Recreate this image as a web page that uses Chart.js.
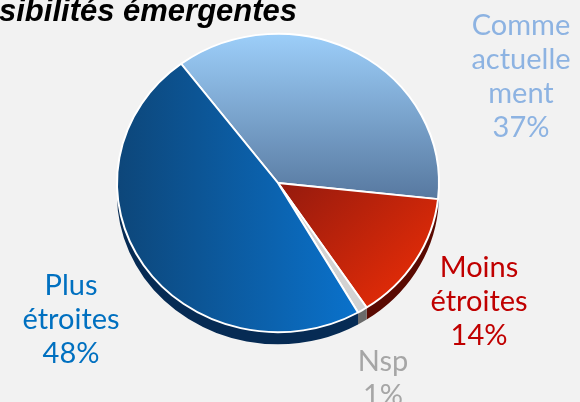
<!DOCTYPE html>
<html lang="fr">
<head>
<meta charset="utf-8">
<script src="https://cdn.jsdelivr.net/npm/chart.js@4.4.1/dist/chart.umd.min.js"></script>
<style>
  body { margin: 0; background: #f2f2f2; }
  #cadre { position: relative; width: 580px; height: 402px; }
</style>
</head>
<body>
<div id="cadre"><canvas id="graphique"></canvas></div>
<script>
const titre = 'sibilités émergentes';
const categories = ['Comme actuellement', 'Moins étroites', 'Nsp', 'Plus étroites'];
const valeurs = [37, 14, 1, 48];
const lignesEtiquettes = [['Comme', 'actuelle', 'ment'], ['Moins', 'étroites'], ['Nsp'], ['Plus', 'étroites']];

const couleursTexte = ['#8db3e2', '#c00000', '#a6a6a6', '#0070c0'];
const couleursCote = ['#3f5f86', '#5a0a02', '#6a6a6a', '#062b54'];
// centre x and first baseline of each outside label
const placeEtiquettes = [[521, 35], [479, 277], [383, 371], [71, 295]];
const INTERLIGNE = 34;

const ECRASEMENT = 0.927; // vertical flattening of the pie
const EPAISSEUR = 12;     // edge thickness in px

function degrade(context) {
  const chart = context.chart;
  const a = chart.chartArea;
  const i = context.dataIndex;
  if (!a) return '#888';
  const c = chart.ctx;
  const cx = (a.left + a.right) / 2, cy = (a.top + a.bottom) / 2, r = (a.right - a.left) / 2;
  let g;
  if (i === 0) {
    g = c.createLinearGradient(0, cy - r, 0, cy + 20);
    g.addColorStop(0, '#9dcffa');
    g.addColorStop(1, '#56779e');
  } else if (i === 1) {
    g = c.createLinearGradient(cx, cy, cx + r * 0.7, cy + r * 0.7);
    g.addColorStop(0, '#941a0e');
    g.addColorStop(1, '#dc2a08');
  } else if (i === 2) {
    return '#d2d2d2';
  } else {
    g = c.createLinearGradient(cx - r, 0, cx + r * 0.5, 0);
    g.addColorStop(0, '#0d4679');
    g.addColorStop(1, '#0a72cc');
  }
  return g;
}

// outer edge band, only the part facing down (canvas angles 0..PI)
function bande(c, x, y, r, a0, a1, prof) {
  const tour = Math.PI * 2;
  for (let k = -1; k <= 1; k++) {
    const s = Math.max(a0 + k * tour, 0), e = Math.min(a1 + k * tour, Math.PI);
    if (e <= s) continue;
    c.beginPath();
    c.arc(x, y, r, s, e);
    c.arc(x, y + prof, r, e, s, true);
    c.closePath();
    c.fill();
  }
}

const relief = {
  id: 'relief',
  beforeDatasetsDraw(chart) {
    const c = chart.ctx;
    const arcs = chart.getDatasetMeta(0).data;
    const cx = arcs[0].x, cy = arcs[0].y;
    c.save();
    c.translate(cx, cy);
    c.scale(1, ECRASEMENT);
    c.translate(-cx, -cy);
    const prof = EPAISSEUR / ECRASEMENT;
    arcs.forEach((arc, i) => {
      c.fillStyle = couleursCote[i];
      bande(c, arc.x, arc.y, arc.outerRadius, arc.startAngle, arc.endAngle, prof);
    });
  },
  afterDatasetsDraw(chart) {
    chart.ctx.restore();
  }
};

const textes = {
  id: 'textes',
  afterDraw(chart) {
    const c = chart.ctx;
    c.save();
    c.fillStyle = '#000';
    c.textAlign = 'left';
    c.textBaseline = 'alphabetic';
    c.font = 'italic bold 31px "Liberation Sans", Arial, sans-serif';
    c.fillText(titre, -1, 21);

    c.textAlign = 'center';
    c.font = '29px Lato, "Noto Sans", sans-serif';
    lignesEtiquettes.forEach((lignes, i) => {
      const [x, y] = placeEtiquettes[i];
      c.fillStyle = couleursTexte[i];
      lignes.concat([valeurs[i] + '%']).forEach((t, j) => c.fillText(t, x, y + j * INTERLIGNE));
    });
    c.restore();
  }
};

new Chart(document.getElementById('graphique'), {
  type: 'pie',
  data: {
    labels: categories,
    datasets: [{
      data: valeurs,
      backgroundColor: degrade,
      borderColor: '#ffffff',
      borderWidth: 2,
      clip: false
    }]
  },
  options: {
    responsive: true,
    maintainAspectRatio: false,
    animation: false,
    rotation: -37,
    layout: { padding: { left: 116, right: 140, top: 21, bottom: 57 } },
    plugins: {
      legend: { display: false },
      tooltip: { enabled: false }
    }
  },
  plugins: [relief, textes]
});
</script>
</body>
</html>
